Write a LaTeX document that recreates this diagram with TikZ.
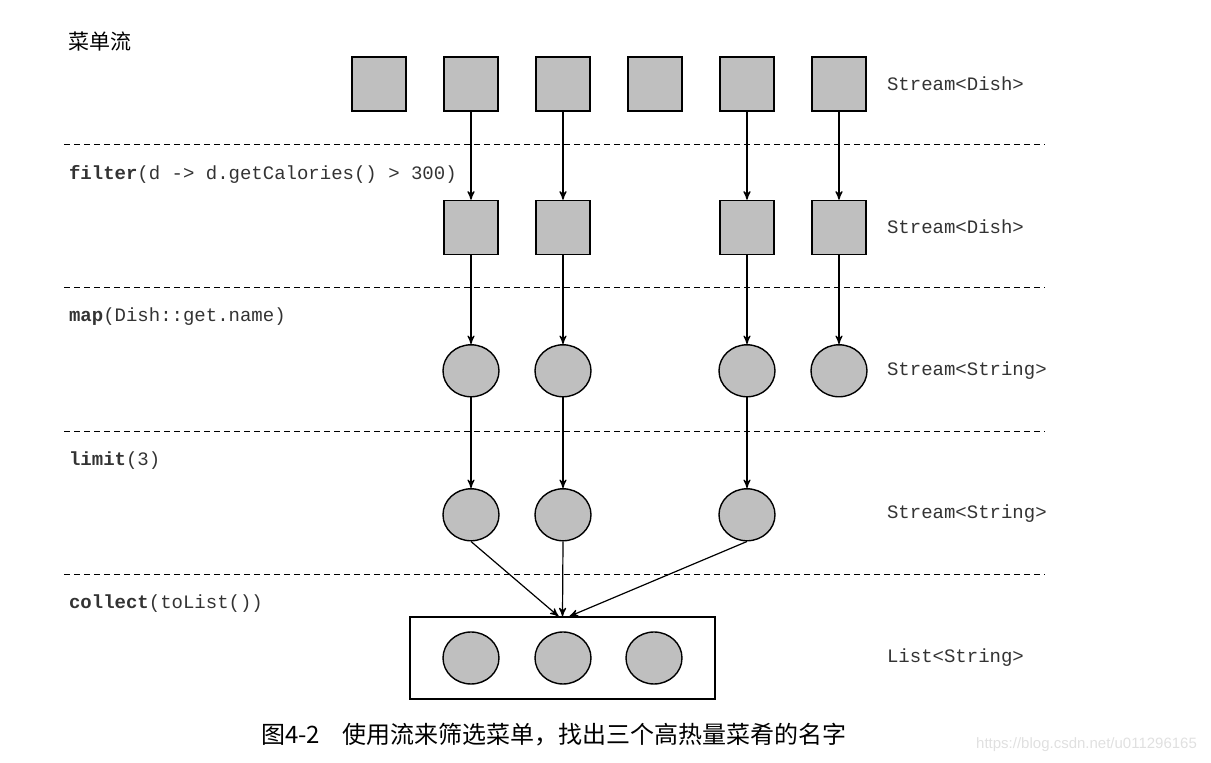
\documentclass[tikz,border=0pt]{standalone}
\usepackage{fontspec}
\setmonofont{Liberation Mono}
\newfontfamily\cjk{Noto Sans CJK SC}
\newfontfamily\wmfont{Liberation Sans}
\usetikzlibrary{arrows, positioning, shapes.geometric}
\colorlet{colorDish}{black!25}
\colorlet{colorText}{black!80}
\tikzset{
  dish/.style={draw, fill=colorDish, minimum size=27pt, inner sep=0pt, line width=0.7pt},
  dishname/.style={draw, fill=colorDish, ellipse, minimum width=28pt, minimum height=26pt, inner sep=0pt, line width=0.7pt},
  optext/.style={anchor=west, text=colorText, font=\ttfamily\fontsize{9.5}{11}\selectfont},
  typetext/.style={anchor=west, text=colorText, font=\ttfamily\fontsize{9.5}{11}\selectfont},
  stage/.style={dashed, dash pattern=on 3pt off 2pt, line width=0.5pt},
  flow/.style={->, line width=0.6pt}
}
\begin{document}
\begin{tikzpicture}[x=0.5pt, y=-0.5pt, >=stealth', node distance=18.3pt]
\useasboundingbox (0,0) rectangle (1211,763);
% stage separators
\foreach \y in {145,288,432,575}
  \draw[stage] (64,\y) -- (1045,\y);

% menu stream
\node[dish] (d1) at (379,84) {};
\node[dish, right=of d1] (d2) {};
\node[dish, right=of d2] (d3) {};
\node[dish, right=of d3] (d4) {};
\node[dish, right=of d4] (d5) {};
\node[dish, right=of d5] (d6) {};

% filter
\node[dish, below=44pt of d2] (f2) {};
\node[dish, below=44pt of d3] (f3) {};
\node[dish, below=44pt of d5] (f5) {};
\node[dish, below=44pt of d6] (f6) {};

% map
\node[dishname, below=44.5pt of f2] (m2) {};
\node[dishname, below=44.5pt of f3] (m3) {};
\node[dishname, below=44.5pt of f5] (m5) {};
\node[dishname, below=44.5pt of f6] (m6) {};

% limit
\node[dishname, below=45.3pt of m2] (l2) {};
\node[dishname, below=45.3pt of m3] (l3) {};
\node[dishname, below=45.3pt of m5] (l5) {};

% collect
\node[draw, line width=0.7pt, minimum width=152.5pt, minimum height=41pt, inner sep=0pt] (list) at (562.5,658) {};
\node[dishname] (c1) at (471,658) {};
\node[dishname] (c2) at (563,658) {};
\node[dishname] (c3) at (654,658) {};

\draw[flow] (d2) -- (f2);
\draw[flow] (d3) -- (f3);
\draw[flow] (d5) -- (f5);
\draw[flow] (d6) -- (f6);
\draw[flow] (f2) -- (m2);
\draw[flow] (f3) -- (m3);
\draw[flow] (f5) -- (m5);
\draw[flow] (f6) -- (m6);
\draw[flow] (m2) -- (l2);
\draw[flow] (m3) -- (l3);
\draw[flow] (m5) -- (l5);
\draw[flow] (l2.south) -- ([xshift=-2pt]list.north);
\draw[flow] (l3.south) -- (list.north);
\draw[flow] (l5.south) -- ([xshift=3.5pt]list.north);

% labels
\node[anchor=west, font=\cjk\fontsize{10.5}{12}\selectfont] (menu) at (61,42) {菜单流};
\node[optext] (opfilter) at (62,174) {\textbf{filter}(d -> d.getCalories() > 300)};
\node[optext] (opmap) at (62,317) {\textbf{map}(Dish::get.name)};
\node[optext] (oplimit) at (62,461) {\textbf{limit}(3)};
\node[optext] (opcollect) at (62,604) {\textbf{collect}(toList())};

\node[typetext] (t1) at (880,84) {Stream<Dish>};
\node[typetext] (t2) at (880,227) {Stream<Dish>};
\node[typetext] (t3) at (880,371) {Stream<String>};
\node[typetext] (t4) at (880,514) {Stream<String>};
\node[typetext] (t5) at (880,658) {List<String>};

\node[anchor=west, font=\cjk\fontsize{12}{14}\selectfont] (caption) at (254,735) {图4-2\hspace{11pt}使用流来筛选菜单，找出三个高热量菜肴的名字};
\node[anchor=east, text=black!12, font=\wmfont\fontsize{7.5}{9}\selectfont] (mark) at (1204,745) {https://blog.csdn.net/u011296165};
\end{tikzpicture}
\end{document}
